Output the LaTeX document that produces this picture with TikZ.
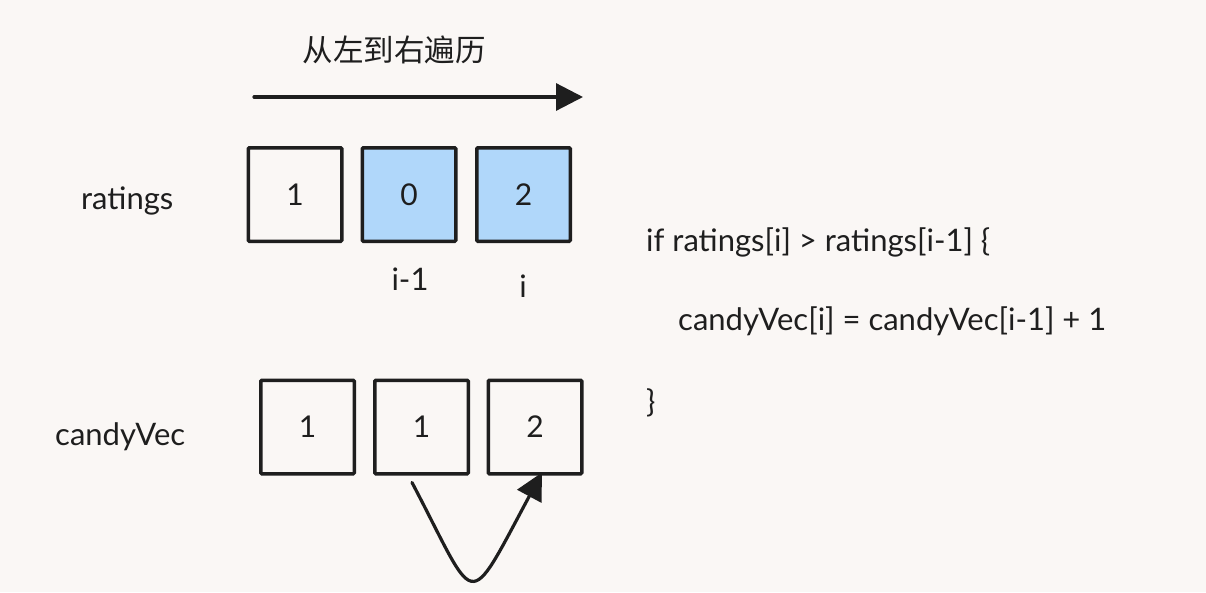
\documentclass[tikz,border=0pt]{standalone}
\usepackage{fontspec}
\setmainfont{Lato}
\newfontfamily\cjk{Noto Sans CJK SC}
\usetikzlibrary{arrows.meta}
\definecolor{paper}{HTML}{FAF7F5}
\definecolor{ink}{HTML}{1E1E1E}
\definecolor{hotcell}{HTML}{B0D7FA}

\begin{document}
\begin{tikzpicture}[x=1pt,y=-1pt,
    cell/.style={draw=ink, line width=3.5pt, minimum size=93.5pt, inner sep=0pt,
        rounded corners=1pt, text=ink, font=\fontsize{30}{34}\selectfont},
    hotcell/.style={cell, fill=hotcell},
    word/.style={text=ink, inner sep=0pt, font=\fontsize{31}{36}\selectfont},
    link/.style={draw=ink, line width=3.2pt, line cap=round,
        -{Triangle[length=27pt,width=27pt]}}]
    \fill[paper] (0,0) rectangle (1206,592);
    \useasboundingbox (0,0) rectangle (1206,592);

    \node[word, font=\cjk\fontsize{30.5}{36}\selectfont] (title) at (394,50) {从左到右遍历};
    \coordinate (from) at (254,97);
    \coordinate (to) at (583,97);
    \draw[link] (from) -- (to);

    \node[word, anchor=base west] (rlabel) at (81,209) {ratings};
    \node[cell] (r1) at (295,194.5) {1};
    \node[hotcell] (r2) at (409,194.5) {0};
    \node[hotcell] (r3) at (523.5,194.5) {2};
    \node[word, anchor=base] (prev) at (410,290) {i-1};
    \node[word, anchor=base] (cur) at (523,297) {i};

    \node[word, anchor=base west] (clabel) at (55,445) {candyVec};
    \node[cell] (c1) at (307.5,427) {1};
    \node[cell] (c2) at (421.5,427) {1};
    \node[cell] (c3) at (535,427) {2};

    \node[word, anchor=base west] (cond) at (646,251) {if ratings[i] > ratings[i-1] \{};
    \node[word, anchor=base west] (body) at (678,330) {candyVec[i] = candyVec[i-1] + 1};
    \node[word, anchor=base west] (close) at (646,412) {\}};

    \draw[link] ([shift={(-9.5,7)}]c2.south) .. controls (478,608) and (465,616) .. ([shift={(7,-3)}]c3.south);
\end{tikzpicture}
\end{document}
